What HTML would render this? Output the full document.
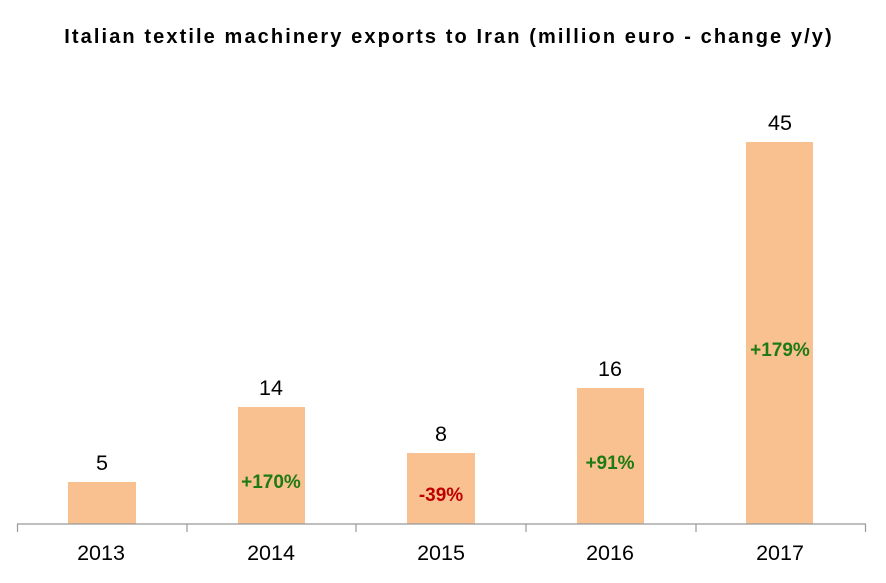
<!DOCTYPE html><html><head><style>body{margin:0;background:#fff}</style></head><body>
<svg width="886" height="578" xmlns="http://www.w3.org/2000/svg" font-family="Liberation Sans, Arial, sans-serif">
<rect width="886" height="578" fill="#fff"/>
<text x="449" y="43" text-anchor="middle" font-size="20" font-weight="bold" letter-spacing="2.1" fill="#000">Italian textile machinery exports to Iran (million euro - change y/y)</text>
<g fill="#f9c190">
<rect x="68" y="482" width="68" height="42"/>
<rect x="238" y="407" width="67" height="117"/>
<rect x="407" y="453" width="68" height="71"/>
<rect x="577" y="388" width="67" height="136"/>
<rect x="746" y="142" width="67" height="382"/>
</g>
<g stroke="#999" stroke-width="1.2" fill="none">
<line x1="17" y1="524" x2="866" y2="524"/>
<line x1="17.5" y1="524" x2="17.5" y2="532"/><line x1="187" y1="524" x2="187" y2="532"/><line x1="356" y1="524" x2="356" y2="532"/><line x1="526" y1="524" x2="526" y2="532"/><line x1="696" y1="524" x2="696" y2="532"/><line x1="865.5" y1="524" x2="865.5" y2="532"/>
</g>
<g font-size="21.5" text-anchor="middle" fill="#000">
<text x="101" y="560">2013</text><text x="271" y="560">2014</text><text x="441" y="560">2015</text><text x="610" y="560">2016</text><text x="780" y="560">2017</text>
<text x="102" y="470">5</text><text x="271" y="395">14</text><text x="441" y="441">8</text><text x="610" y="376">16</text><text x="780" y="130">45</text>
</g>
<g font-size="19" font-weight="bold" text-anchor="middle">
<text x="271" y="488" fill="#1e7a12">+170%</text>
<text x="441" y="501" fill="#c00000">-39%</text>
<text x="610" y="469" fill="#1e7a12">+91%</text>
<text x="780" y="356" fill="#1e7a12">+179%</text>
</g>
</svg></body></html>
